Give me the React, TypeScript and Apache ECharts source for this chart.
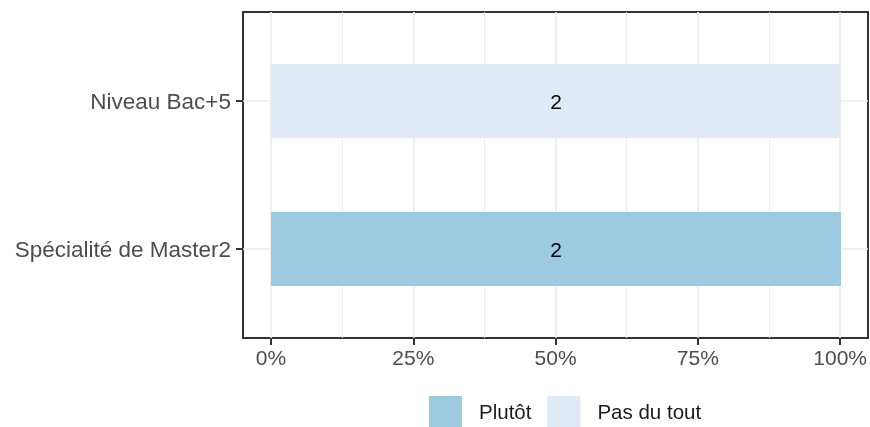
import React, { useEffect, useRef } from "react";
import * as echarts from "echarts";

const categories = ["Spécialité de Master2", "Niveau Bac+5"];
const seriesNames = ["Plutôt", "Pas du tout"];
const countsPlutot = [2, 0];
const countsPasDuTout = [0, 2];
const seriesColors = ["#9ecae1", "#deebf7"];

const FONT = "'Liberation Sans', Arial, Helvetica, sans-serif";

export default function App() {
  const ref = useRef<HTMLDivElement>(null);
  useEffect(() => {
    if (!ref.current) return;
    const chart = echarts.init(ref.current, undefined, { renderer: "svg" });
    const totals = categories.map((_, i) => countsPlutot[i] + countsPasDuTout[i]);
    const pct = (arr: number[]) => arr.map((v, i) => (totals[i] ? (v / totals[i]) * 100 : 0));
    const allCounts = [countsPlutot, countsPasDuTout];
    const series = seriesNames.map((name, k) => ({
      name,
      type: "bar",
      stack: "total",
      xAxisIndex: 3,
      yAxisIndex: 3,
      barWidth: 74,
      itemStyle: { color: seriesColors[k] },
      data: pct(allCounts[k]),
      label: {
        show: true,
        position: "inside",
        color: "#000",
        fontFamily: FONT,
        fontSize: 21,
        formatter: (p: any) => (allCounts[k][p.dataIndex] > 0 ? String(allCounts[k][p.dataIndex]) : ""),
      },
    }));
    const tickStyle = { color: "#333333", width: 2, opacity: 1 };
    chart.setOption({
      animation: false,
      textStyle: { fontFamily: FONT },
      grid: [
        { left: 243, top: 12, width: 625, height: 326, show: true, borderColor: "#333333", borderWidth: 2, backgroundColor: "transparent", containLabel: false },
        { left: 243, top: 101, width: 625, height: 148, containLabel: false },
        { left: 271, top: 12, width: 570, height: 326, containLabel: false },
        { left: 271, top: 27, width: 570, height: 296, containLabel: false },
      ],
      xAxis: [
        { gridIndex: 0, type: "value", show: false },
        { gridIndex: 1, type: "value", show: false },
        {
          gridIndex: 2,
          type: "value",
          position: "bottom",
          min: 0,
          max: 100,
          interval: 25,
          axisLine: { show: false },
          axisTick: { show: true, inside: false, length: 7, lineStyle: tickStyle },
          axisLabel: { color: "#4d4d4d", fontSize: 21, margin: 9, formatter: "{value}%", fontFamily: FONT },
          splitLine: { show: true, lineStyle: { color: "#ebebeb", width: 1.6 } },
          minorTick: { show: false, splitNumber: 2 },
          minorSplitLine: { show: true, lineStyle: { color: "#ebebeb", width: 0.9 } },
        },
        { gridIndex: 3, type: "value", min: 0, max: 100, show: false },
      ],
      yAxis: [
        { gridIndex: 0, type: "value", show: false },
        {
          gridIndex: 1,
          type: "category",
          position: "left",
          data: categories,
          boundaryGap: false,
          axisLine: { show: false },
          axisTick: { show: true, inside: false, length: 7, interval: 0, lineStyle: tickStyle },
          axisLabel: { color: "#4d4d4d", fontSize: 22.5, margin: 12, fontFamily: FONT },
          splitLine: { show: true, lineStyle: { color: "#ebebeb", width: 1.6 } },
        },
        { gridIndex: 2, type: "value", show: false },
        { gridIndex: 3, type: "category", data: categories, show: false },
      ],
      legend: {
        data: seriesNames,
        left: 429,
        top: 396,
        padding: 0,
        itemWidth: 33,
        itemHeight: 31,
        itemGap: 16,
        icon: "rect",
        textStyle: { color: "#1a1a1a", fontSize: 20.5, fontFamily: FONT, padding: [0, 0, 0, 12] },
      },
      series,
    });
    return () => chart.dispose();
  }, []);
  return <div ref={ref} style={{ position: "fixed", left: 0, top: 0, width: 870, height: 427 }} />;
}
